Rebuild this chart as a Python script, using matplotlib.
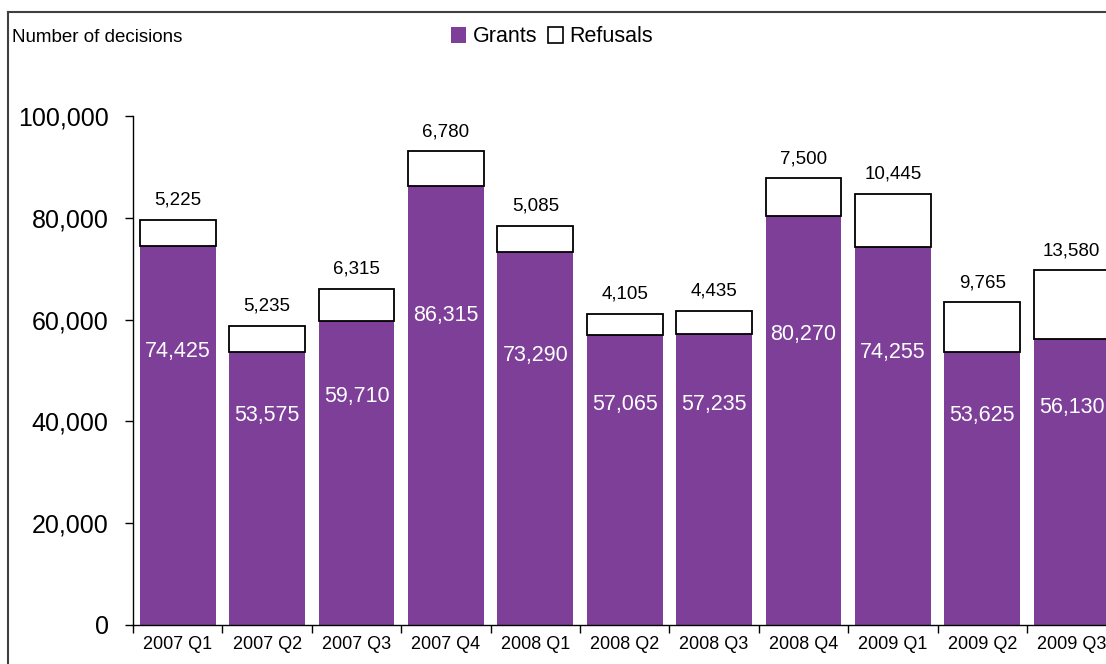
import matplotlib
matplotlib.use("Agg")
import matplotlib.pyplot as plt
from matplotlib.patches import Patch
from matplotlib.lines import Line2D
from matplotlib.ticker import FuncFormatter, FixedLocator
import numpy as np

quarters = ["2007 Q1", "2007 Q2", "2007 Q3", "2007 Q4", "2008 Q1", "2008 Q2",
            "2008 Q3", "2008 Q4", "2009 Q1", "2009 Q2", "2009 Q3"]
grants = [74425, 53575, 59710, 86315, 73290, 57065, 57235, 80270, 74255, 53625, 56130]
refusals = [5225, 5235, 6315, 6780, 5085, 4105, 4435, 7500, 10445, 9765, 13580]

plt.rcParams['font.family'] = ['Liberation Sans', 'DejaVu Sans']

W, H = 1106, 664
fig = plt.figure(figsize=(W / 100, H / 100), dpi=100)
fig.patch.set_facecolor('white')

cat_w = 89.4
left_px, bottom_px, top_px = 133, 625, 116
ax = fig.add_axes([left_px / W, (H - bottom_px) / H,
                   len(quarters) * cat_w / W, (bottom_px - top_px) / H])

purple = '#7E3F98'
x = np.arange(len(quarters))
bw = 0.85
ax.bar(x, grants, width=bw, color=purple, edgecolor='none', zorder=2)
ax.bar(x, refusals, width=bw, bottom=grants, color='white', edgecolor='black',
       linewidth=1.3, zorder=2)

for xi, g, r in zip(x, grants, refusals):
    ax.text(xi, g * 0.6 + 9000, f"{g:,}", ha='center', va='center', color='white',
            fontsize=15.5, zorder=3)
    ax.annotate(f"{r:,}", (xi, g + r), xytext=(0, 8), textcoords='offset points',
                ha='center', va='bottom', fontsize=13.5, color='black',
                annotation_clip=False)

ax.set_xlim(-0.5, len(quarters) - 0.5)
ax.set_ylim(0, 100000)
ax.set_yticks(np.arange(0, 100001, 20000))
ax.yaxis.set_major_formatter(FuncFormatter(lambda v, p: f"{int(v):,}"))
ax.tick_params(axis='y', labelsize=18, length=6, width=1, direction='out', pad=11.5)

ax.set_xticks(x)
ax.set_xticklabels(quarters)
ax.xaxis.set_minor_locator(FixedLocator(np.arange(-0.5, len(quarters), 1.0)))
ax.tick_params(axis='x', which='major', length=0, labelsize=13, pad=8)
ax.tick_params(axis='x', which='minor', length=6, width=1, direction='out')

for s in ['top', 'right']:
    ax.spines[s].set_visible(False)
for s in ['left', 'bottom']:
    ax.spines[s].set_linewidth(1.0)
    ax.spines[s].set_color('black')

# Figure border (top-left visible)
bx, by = 8 / W, 1 - 12 / H
fig.add_artist(Line2D([bx, bx], [0, by], transform=fig.transFigure,
                      color='#404040', linewidth=1.5))
fig.add_artist(Line2D([bx, 1.0], [by, by], transform=fig.transFigure,
                      color='#404040', linewidth=1.5))

fig.text(12 / W, 1 - 37 / H, "Number of decisions", ha='left', va='center',
         fontsize=13.5)

handles = [Patch(facecolor=purple, edgecolor='none', label='Grants'),
           Patch(facecolor='white', edgecolor='black', linewidth=1.2, label='Refusals')]
fig.legend(handles=handles, loc='center left', bbox_to_anchor=(451 / W, 1 - 37 / H),
           ncol=2, frameon=False, fontsize=15.5, handlelength=0.7, handleheight=0.7,
           handletextpad=0.3, columnspacing=0.5, borderpad=0, borderaxespad=0)

fig.savefig("out.png", dpi=100, facecolor='white')
